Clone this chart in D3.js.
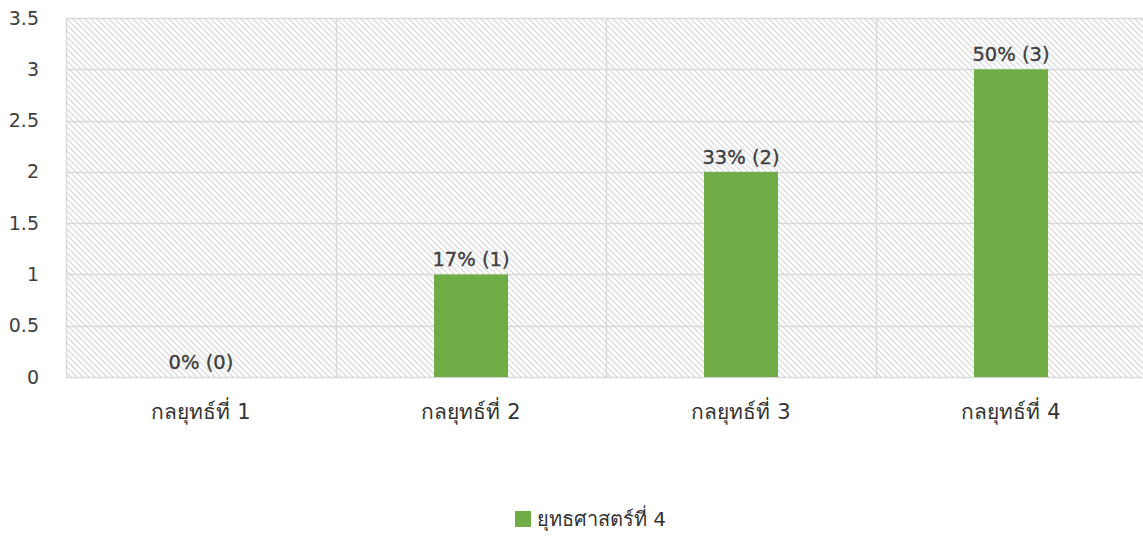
<!DOCTYPE html>
<html>
<head>
<meta charset="utf-8">
<script src="https://cdn.jsdelivr.net/npm/d3@7"></script>
<style>
  body { margin: 0; background: #fff; }
  text { font-family: "DejaVu Sans", "Noto Sans", sans-serif; }
</style>
</head>
<body>
<div id="chart"></div>
<script>
// data
var categories = ["กลยุทธ์ที่ 1", "กลยุทธ์ที่ 2", "กลยุทธ์ที่ 3", "กลยุทธ์ที่ 4"];
var counts = [0, 1, 2, 3];
var labels = ["0% (0)", "17% (1)", "33% (2)", "50% (3)"];
var yTicks = [0, 0.5, 1, 1.5, 2, 2.5, 3, 3.5];
var seriesName = "ยุทธศาสตร์ที่ 4";

var W = 1143, H = 537;
var margin = {top: 18, right: -3, bottom: 160, left: 66},
    width = W - margin.left - margin.right,
    height = H - margin.top - margin.bottom;

var svg = d3.select("#chart")
  .append("svg")
    .attr("width", W)
    .attr("height", H);

// hatch pattern
var defs = svg.append("defs");
var pat = defs.append("pattern")
    .attr("id", "hatch")
    .attr("patternUnits", "userSpaceOnUse")
    .attr("width", 6)
    .attr("height", 6);
pat.append("rect").attr("width", 6).attr("height", 6).attr("fill", "#fff");
pat.append("path")
    .attr("d", "M-1,-1 L7,7 M-1,5 L1,7 M5,-1 L7,1")
    .attr("stroke", "#dcdcdc")
    .attr("stroke-width", 1.3);

var g = svg.append("g")
    .attr("transform", "translate(" + margin.left + "," + margin.top + ")");

var x = d3.scaleBand()
    .domain(categories)
    .range([0, width]);

var y = d3.scaleLinear()
    .domain([0, 3.5])
    .range([height, 0]);

// plot background
g.append("rect")
    .attr("width", width)
    .attr("height", height)
    .attr("fill", "url(#hatch)");

// horizontal grid
g.append("g")
  .selectAll("line")
  .data(yTicks)
  .enter()
  .append("line")
    .attr("x1", 0)
    .attr("x2", width)
    .attr("y1", function (d) { return Math.round(y(d)) + 0.5; })
    .attr("y2", function (d) { return Math.round(y(d)) + 0.5; })
    .attr("stroke", "#d9d9d9")
    .attr("stroke-width", 1.5);

// vertical grid (category boundaries)
g.append("g")
  .selectAll("line")
  .data(categories)
  .enter()
  .append("line")
    .attr("x1", function (d) { return Math.round(x(d)) + 0.5; })
    .attr("x2", function (d) { return Math.round(x(d)) + 0.5; })
    .attr("y1", 0)
    .attr("y2", height)
    .attr("stroke", "#d9d9d9")
    .attr("stroke-width", 1.5);

// Y axis
var yAxis = g.append("g")
    .call(d3.axisLeft(y).tickValues(yTicks).tickSize(0).tickPadding(27).tickFormat(d3.format("")));
yAxis.select(".domain").remove();
yAxis.selectAll("text")
    .style("font-size", "19px")
    .attr("fill", "#404040");

// X axis
var xAxis = g.append("g")
    .attr("transform", "translate(0," + height + ")")
    .call(d3.axisBottom(x).tickSize(0).tickPadding(27));
xAxis.select(".domain").remove();
xAxis.selectAll("text")
    .style("font-size", "21px")
    .attr("fill", "#333");

// bars
var barW = 74;
g.append("g")
  .selectAll("rect")
  .data(counts)
  .enter()
  .append("rect")
    .attr("x", function (d, i) { return x(categories[i]) + x.bandwidth() / 2 - barW / 2; })
    .attr("y", function (d) { return y(d); })
    .attr("width", barW)
    .attr("height", function (d) { return height - y(d); })
    .attr("fill", "#70ad47");

// data labels
g.append("g")
  .selectAll("text")
  .data(counts)
  .enter()
  .append("text")
    .attr("x", function (d, i) { return x(categories[i]) + x.bandwidth() / 2; })
    .attr("y", function (d) { return y(d) - 8; })
    .attr("text-anchor", "middle")
    .style("font-size", "19.5px")
    .attr("fill", "#404040")
    .attr("stroke", "#404040")
    .attr("stroke-width", 0.35)
    .text(function (d, i) { return labels[i]; });

// legend
var lg = svg.append("g").attr("transform", "translate(515,511)");
lg.append("rect").attr("width", 16).attr("height", 16).attr("fill", "#70ad47");
lg.append("text")
    .attr("x", 22)
    .attr("y", 15)
    .style("font-size", "20px")
    .attr("fill", "#333")
    .text(seriesName);
</script>
</body>
</html>
